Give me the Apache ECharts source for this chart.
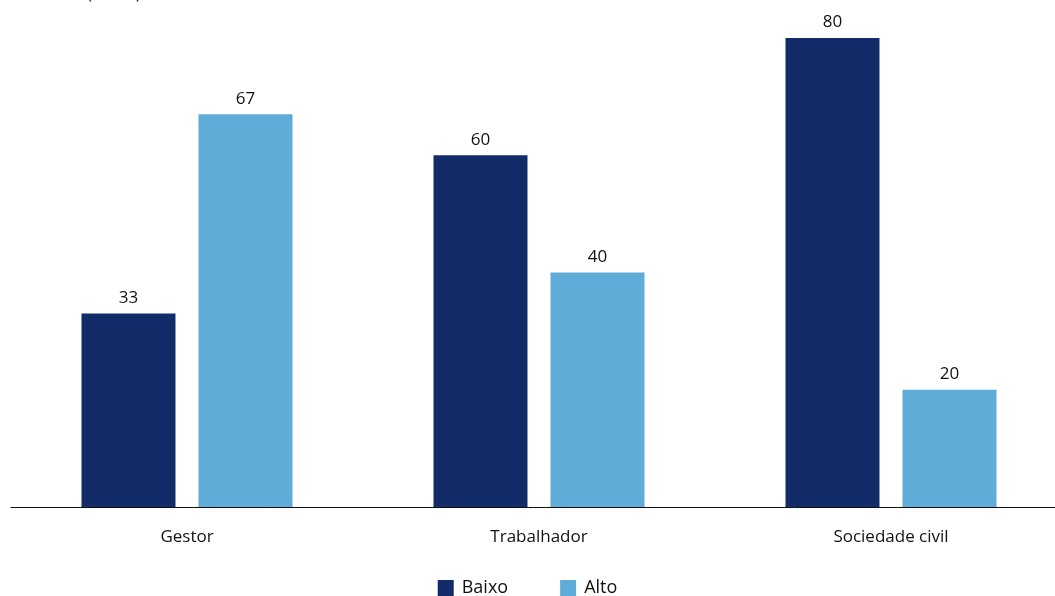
<!DOCTYPE html>
<html><head><meta charset="utf-8">
<script src="https://cdn.jsdelivr.net/npm/echarts@6/dist/echarts.min.js"></script>
<style>html,body{margin:0;padding:0;background:#fff}#c{width:1055px;height:596px}</style>
</head><body><div id="c"></div>
<script>
const categories = ['Gestor', 'Trabalhador', 'Sociedade civil'];
const baixo = [33, 60, 80];
const alto = [67, 40, 20];
const seriesNames = ['Baixo', 'Alto'];
const unitLabel = '(Em %)';

const chart = echarts.init(document.getElementById('c'));
const font = "'Open Sans', 'Noto Sans', sans-serif";
chart.setOption({
  animation: false,
  title: { text: unitLabel, left: 82, top: -19, textStyle: { fontFamily: font, fontSize: 17, fontWeight: 'normal', color: '#111' } },
  legend: {
    data: seriesNames, bottom: -6, left: 'center', itemWidth: 16, itemHeight: 16, itemGap: 52,
    icon: 'rect',
    textStyle: { fontFamily: font, fontSize: 18, color: '#111', padding: [0, 0, 0, 3] }
  },
  grid: { left: 11, width: 1056, top: 38, bottom: 89, outerBoundsMode: 'none', containLabel: false },
  xAxis: {
    type: 'category', data: categories,
    axisLine: { lineStyle: { color: '#111', width: 1 } },
    axisTick: { show: false },
    axisLabel: { fontFamily: font, fontSize: 17, color: '#111', margin: 22 }
  },
  yAxis: { type: 'value', min: 0, max: 80, show: false, splitLine: { show: false } },
  series: [
    { name: seriesNames[0], type: 'bar', data: baixo, barWidth: 94, barGap: '24.5%', itemStyle: { color: '#122c69' },
      label: { show: true, position: 'top', fontFamily: font, fontSize: 17, color: '#111', distance: 7 } },
    { name: seriesNames[1], type: 'bar', data: alto, barWidth: 94, itemStyle: { color: '#5eacd7' },
      label: { show: true, position: 'top', fontFamily: font, fontSize: 17, color: '#111', distance: 7 } }
  ]
});
</script></body></html>
